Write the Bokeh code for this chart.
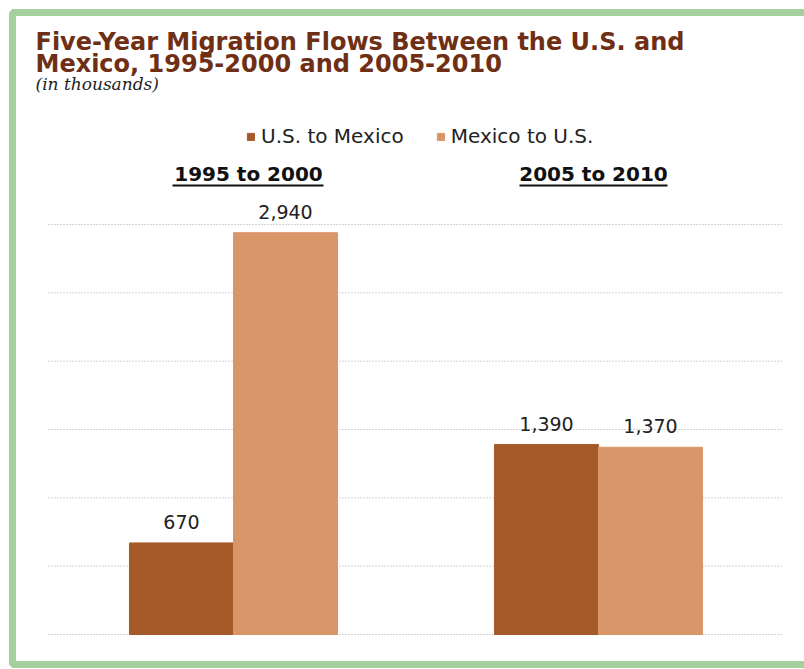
from bokeh.plotting import figure
from bokeh.models import Range1d, ColumnDataSource
from bokeh.core.properties import value
from bokeh.embed import file_html
from bokeh.resources import INLINE

# ---- data ----
periods = ["1995 to 2000", "2005 to 2010"]
us_to_mexico = [670, 1390]
mexico_to_us = [2940, 1370]
series_names = ["U.S. to Mexico", "Mexico to U.S."]
grid_values = [0, 500, 1000, 1500, 2000, 2500, 3000]

title_lines = ["Five-Year Migration Flows Between the U.S. and",
               "Mexico, 1995-2000  and 2005-2010"]
subtitle = "(in thousands)"

# ---- style ----
DARK = "#A65A29"
LIGHT = "#D99669"
TITLE_C = "#6E2F14"
GREEN = "#A3D09C"
W, H = 804, 669
BAR_W = 0.285

p = figure(width=W, height=H, output_backend="svg", toolbar_location=None,
           x_range=Range1d(0, W), y_range=Range1d(H, 0),
           x_axis_type=None, y_axis_type=None,
           min_border_left=0, min_border_right=0, min_border_top=0, min_border_bottom=0)
p.outline_line_color = None
p.xgrid.visible = False
p.ygrid.visible = False
p.background_fill_color = "white"
p.border_fill_color = "white"

# value scale: 0 -> 634px, 3000 -> 224px
k = 410 / 3000.0
v_start = -35 / k
p.extra_y_ranges = {"val": Range1d(v_start, v_start + H / k)}
# group scale: group 0 centre at 233px, group 1 at 598px
u = 365.0
g_start = -233 / u
p.extra_x_ranges = {"grp": Range1d(g_start, g_start + W / u)}

# gridlines
p.segment(x0=[48] * len(grid_values), x1=[783] * len(grid_values),
          y0=grid_values, y1=grid_values, y_range_name="val",
          line_color="#A8A8A8", line_width=1, line_dash="1 2")

idx = list(range(len(periods)))
src = ColumnDataSource(dict(
    xd=[i - BAR_W / 2 for i in idx], xl=[i + BAR_W / 2 for i in idx],
    us=us_to_mexico, mx=mexico_to_us,
    us_lbl=[f"{v:,}" for v in us_to_mexico], mx_lbl=[f"{v:,}" for v in mexico_to_us],
))

r1 = p.vbar(x="xd", top="us", bottom=0, width=BAR_W, source=src,
            x_range_name="grp", y_range_name="val",
            fill_color=DARK, line_color=DARK, legend_label=series_names[0])
r2 = p.vbar(x="xl", top="mx", bottom=0, width=BAR_W, source=src,
            x_range_name="grp", y_range_name="val",
            fill_color=LIGHT, line_color=LIGHT, legend_label=series_names[1])

for xcol, lcol, ycol in [("xd", "us_lbl", "us"), ("xl", "mx_lbl", "mx")]:
    p.text(x=xcol, y=ycol, text=lcol, source=src, x_range_name="grp", y_range_name="val",
           text_align="center", text_baseline="alphabetic", y_offset=-21,
           text_font=value("DejaVu Sans"), text_font_size="19px", text_color="#222222")

# group labels (underlined)
gsrc = ColumnDataSource(dict(x=idx, y=[173] * len(idx), t=periods, xo=[15, -5]))
p.text(x="x", y="y", text="t", source=gsrc, x_range_name="grp", x_offset="xo",
       text_align="center", text_baseline="alphabetic",
       text_font=value("DejaVu Sans"), text_font_style="bold",
       text_font_size="20px", text_color="#111111")
p.segment(x0=[172, 519], x1=[323, 667], y0=[185, 185], y1=[185, 185],
          line_color="#111111", line_width=2)

# title
p.text(x=[35, 35], y=[41, 63], text=title_lines, text_font=value("DejaVu Sans"),
       text_font_style="bold", text_font_size="24px", text_color=TITLE_C,
       text_baseline="alphabetic")
p.text(x=[35], y=[83], text=[subtitle], text_font=value("DejaVu Serif"),
       text_font_style="italic", text_font_size="17px", text_color="#222222",
       text_baseline="alphabetic")

# border
p.quad(left=12, right=W + 20, top=12, bottom=664, fill_color=None,
       line_color=GREEN, line_width=7)

# legend
lg = p.legend[0]
lg.orientation = "horizontal"
lg.location = (246, H - 148)
lg.glyph_width = 9
lg.glyph_height = 9
lg.label_standoff = 6
lg.spacing = 32
lg.padding = 0
lg.margin = 0
lg.border_line_color = None
lg.background_fill_alpha = 0
lg.label_text_font = "DejaVu Sans"
lg.label_text_font_size = "20px"
lg.label_text_color = "#222222"
lg.label_height = 20

open("out.html", "w").write(file_html(p, INLINE))
